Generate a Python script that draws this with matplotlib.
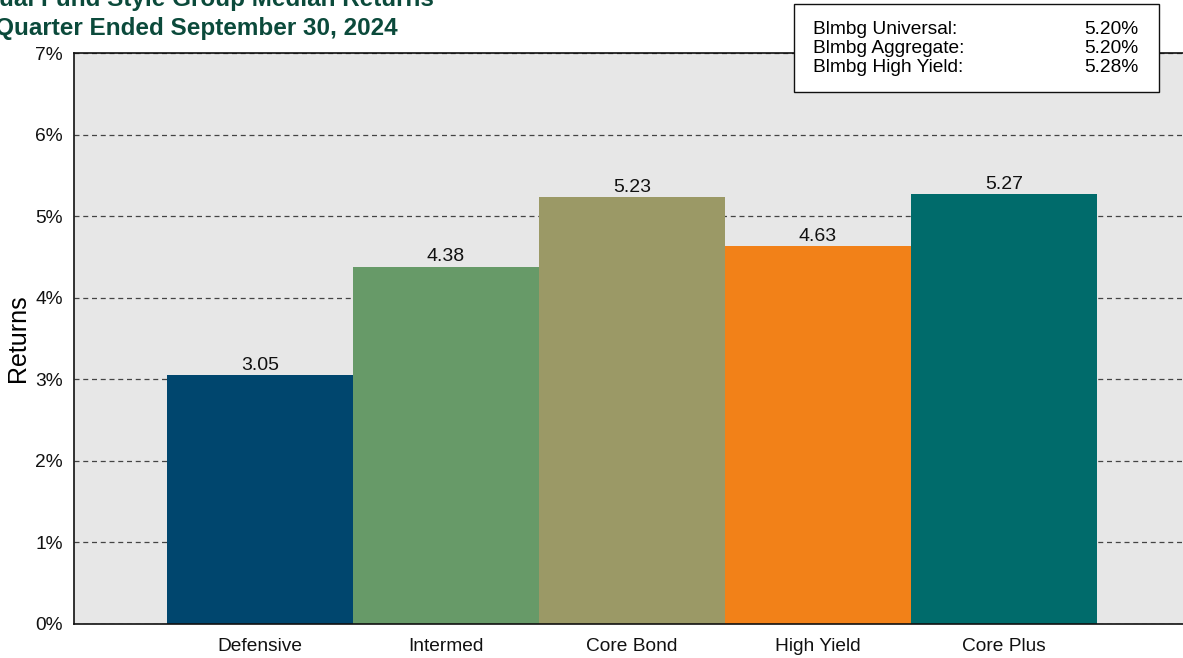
import matplotlib.pyplot as plt
from matplotlib.ticker import FuncFormatter

# median returns by style group, quarter ended 9/30/2024
groups = ["Defensive", "Intermed", "Core Bond", "High Yield", "Core Plus"]
returns = [3.05, 4.38, 5.23, 4.63, 5.27]
colors = ["#00466e", "#679a68", "#9b9966", "#f28118", "#006b6b"]

bench_names = ["Blmbg Universal:", "Blmbg Aggregate:", "Blmbg High Yield:"]
bench_values = [5.20, 5.20, 5.28]

plt.rcParams["font.family"] = ["Liberation Sans", "DejaVu Sans"]

W, H = 1183, 658
fig = plt.figure(figsize=(W / 100, H / 100), dpi=100)
ax = fig.add_axes([74 / W, 1 - 624 / H, 1 - 74 / W, (624 - 53) / H])
ax.set_facecolor("#e7e7e7")

x = range(len(groups))
ax.bar(x, returns, width=1.0, color=colors, zorder=2)
for xi, v in zip(x, returns):
    ax.text(xi, v + 0.015, f"{v:.2f}", ha="center", va="bottom",
            fontsize=14, color="#111111", zorder=3)

ax.set_xlim(-1.0, 4.962)
ax.set_ylim(0, 7)
ax.set_yticks(range(0, 8))
ax.yaxis.set_major_formatter(FuncFormatter(lambda v, _: f"{v:.0f}%"))
ax.set_xticks(list(x))
ax.set_xticklabels(groups)
ax.tick_params(axis="both", length=0, labelsize=13.8, colors="#111111")
ax.tick_params(axis="y", pad=8)
ax.tick_params(axis="x", pad=10)
ax.set_ylabel("Returns", fontsize=18, labelpad=4)

ax.grid(axis="y", color="#444444", ls=(0, (4, 3)), lw=0.9, zorder=1)
ax.grid(axis="x", visible=False)
ax.spines["right"].set_visible(False)
for s in ("left", "bottom", "top"):
    ax.spines[s].set_color("#111111")
    ax.spines[s].set_linewidth(1.2)

# title, left edge runs past the figure
title_color = "#0b4a3b"
fig.text(-44 / W, 1 - 6 / H, "Mutual Fund Style Group Median Returns",
         fontsize=17.5, fontweight="bold", color=title_color, va="baseline")
fig.text(-44 / W, 1 - 35.5 / H, "for Quarter Ended September 30, 2024",
         fontsize=17.5, fontweight="bold", color=title_color, va="baseline")

# benchmark box
bx0, bx1 = 794 / W, 1159 / W
by0, by1 = 1 - 92 / H, 1 - 4 / H
fig.patches.append(plt.Rectangle((bx0, by0), bx1 - bx0, by1 - by0,
                                 transform=fig.transFigure, facecolor="white",
                                 edgecolor="#111111", lw=1.0, zorder=5))
for i, (name, val) in enumerate(zip(bench_names, bench_values)):
    yy = 1 - (29 + i * 19.5) / H
    fig.text(813 / W, yy, name, fontsize=13.8, va="center", zorder=6)
    fig.text(1138 / W, yy, f"{val:.2f}%", fontsize=13.8, va="center",
             ha="right", zorder=6)

fig.savefig("out.png", dpi=100)
